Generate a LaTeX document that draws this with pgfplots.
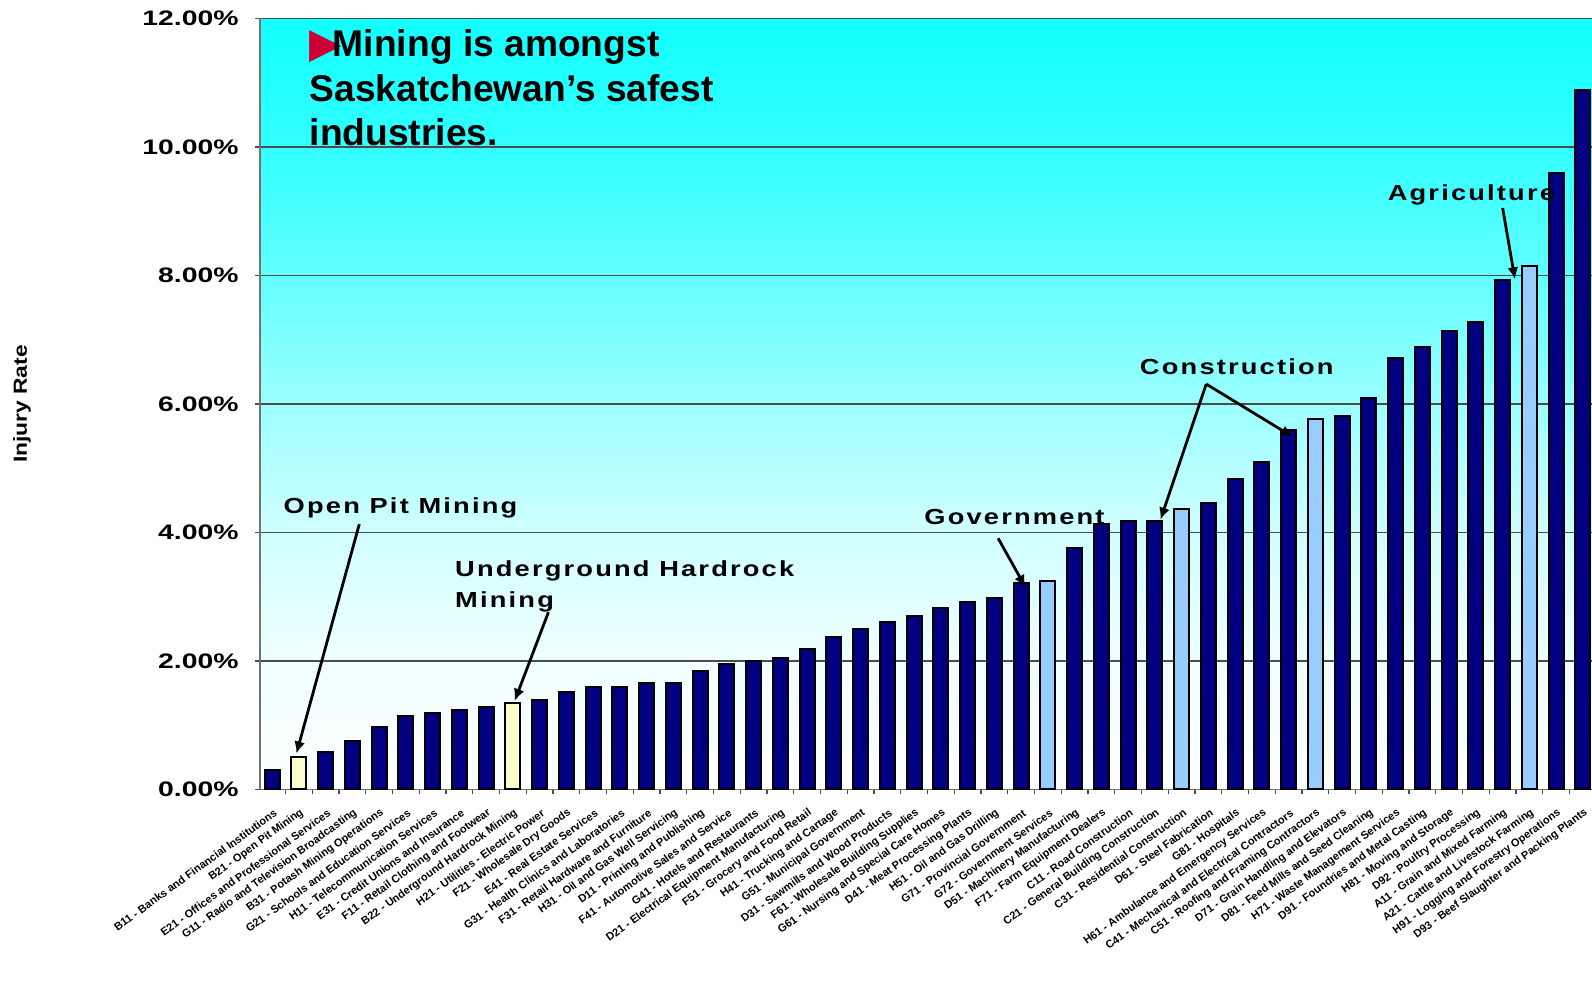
\documentclass[border=0pt]{standalone}
\usepackage{fontspec}
\setmainfont{Liberation Sans}
\newfontfamily\dejavu{DejaVu Sans}
\newfontfamily\annfont[LetterSpace=8]{Liberation Sans}
\usepackage{graphicx}
\usepackage{pgfplots}
\pgfplotsset{compat=1.18}
\usetikzlibrary{arrows.meta}

\definecolor{navybar}{RGB}{0,0,128}
\definecolor{lightbar}{RGB}{153,204,255}
\definecolor{yellowbar}{RGB}{255,255,204}
\definecolor{tri}{RGB}{204,0,51}
\definecolor{c0}{HTML}{FEFFFF}
\definecolor{c2}{HTML}{F0FFFF}
\definecolor{c4}{HTML}{D0FFFF}
\definecolor{c6}{HTML}{9CFFFF}
\definecolor{c8}{HTML}{62FFFF}
\definecolor{c10}{HTML}{32FFFF}
\definecolor{c12}{HTML}{12FFFF}
\pgfdeclareverticalshading{bgshade}{100bp}{color(0bp)=(c0); color(25bp)=(c0); color(33.33bp)=(c2); color(41.67bp)=(c4); color(50bp)=(c6); color(58.33bp)=(c8); color(66.67bp)=(c10); color(75bp)=(c12); color(100bp)=(c12)}

\newcommand\wide[1]{\scalebox{1.35}[1]{#1}}
\newcommand\ann[1]{\scalebox{1.25}[1]{\annfont\bfseries #1}}

\begin{document}
\begin{tikzpicture}
\begin{axis}[
  scale only axis, width=666pt, height=385.5pt,
  xmin=0.548, xmax=50.34, ymin=0, ymax=12,
  axis background/.style={shade, shading=bgshade},
  axis x line*=bottom, axis y line*=left,
  axis line style={-, draw=black!55, line width=0.7pt},
  ymajorgrids, major grid style={black!70, line width=0.6pt},
  tick align=outside, major tick length=2.5pt,
  tick style={black!70, line width=0.6pt},
  ytick={0,2,4,6,8,10,12},
  yticklabels={\wide{0.00\%},\wide{2.00\%},\wide{4.00\%},\wide{6.00\%},\wide{8.00\%},\wide{10.00\%},\wide{12.00\%}},
  yticklabel style={font=\bfseries\fontsize{10.5}{12}\selectfont, inner sep=0pt, anchor=east, xshift=-8pt},
  xtick={1.5,2.5,...,49.5}, xticklabels={},
  extra x ticks={1,2,...,50},
  extra x tick style={major tick length=0pt, grid=none},
  extra x tick labels={
    B11 - Banks and Financial Institutions,
    B21 - Open Pit Mining,
    E21 - Offices and Professional Services,
    G11 - Radio and Television Broadcasting,
    B31 - Potash Mining Operations,
    G21 - Schools and Education Services,
    H11 - Telecommunication Services,
    E31 - Credit Unions and Insurance,
    F11 - Retail Clothing and Footwear,
    B22 - Underground Hardrock Mining,
    H21 - Utilities - Electric Power,
    F21 - Wholesale Dry Goods,
    E41 - Real Estate Services,
    G31 - Health Clinics and Laboratories,
    F31 - Retail Hardware and Furniture,
    H31 - Oil and Gas Well Servicing,
    D11 - Printing and Publishing,
    F41 - Automotive Sales and Service,
    G41 - Hotels and Restaurants,
    D21 - Electrical Equipment Manufacturing,
    F51 - Grocery and Food Retail,
    H41 - Trucking and Cartage,
    G51 - Municipal Government,
    D31 - Sawmills and Wood Products,
    F61 - Wholesale Building Supplies,
    G61 - Nursing and Special Care Homes,
    D41 - Meat Processing Plants,
    H51 - Oil and Gas Drilling,
    G71 - Provincial Government,
    G72 - Government Services,
    D51 - Machinery Manufacturing,
    F71 - Farm Equipment Dealers,
    C11 - Road Construction,
    C21 - General Building Construction,
    C31 - Residential Construction,
    D61 - Steel Fabrication,
    G81 - Hospitals,
    H61 - Ambulance and Emergency Services,
    C41 - Mechanical and Electrical Contractors,
    C51 - Roofing and Framing Contractors,
    D71 - Grain Handling and Elevators,
    D81 - Feed Mills and Seed Cleaning,
    H71 - Waste Management Services,
    D91 - Foundries and Metal Casting,
    H81 - Moving and Storage,
    D92 - Poultry Processing,
    A11 - Grain and Mixed Farming,
    A21 - Cattle and Livestock Farming,
    H91 - Logging and Forestry Operations,
    D93 - Beef Slaughter and Packing Plants},
  xticklabel style={rotate=36, anchor=east, inner sep=0pt, xshift=-5pt, yshift=-10pt, font=\bfseries\fontsize{5.5}{6}\selectfont},
  every axis y label/.style={at={(axis description cs:-0.1787,0.5)}, rotate=90, anchor=center},
  ylabel={\scalebox{1.2}[1]{Injury Rate}},
  ylabel style={font=\bfseries\fontsize{9.5}{11}\selectfont},
]
\addplot[ybar, bar width=0.56, bar shift=0pt, fill=navybar, draw=black, line width=1pt] coordinates {
 (1,0.30) (3,0.58) (4,0.75) (5,0.97) (6,1.15) (7,1.19) (8,1.23) (9,1.29)
 (11,1.39) (12,1.51) (13,1.60) (14,1.60) (15,1.66) (16,1.66) (17,1.85) (18,1.96)
 (19,2.00) (20,2.04) (21,2.19) (22,2.38) (23,2.50) (24,2.60) (25,2.70) (26,2.82)
 (27,2.92) (28,2.98) (29,3.21) (31,3.76) (32,4.13) (33,4.18) (34,4.18)
 (36,4.46) (37,4.84) (38,5.09) (39,5.59) (41,5.81) (42,6.10) (43,6.71) (44,6.89)
 (45,7.14) (46,7.27) (47,7.93) (49,9.60) (50,10.88)};
\addplot[ybar, bar width=0.56, bar shift=0pt, fill=yellowbar, draw=black, line width=1pt] coordinates {
 (2,0.50) (10,1.35)};
\addplot[ybar, bar width=0.56, bar shift=0pt, fill=lightbar, draw=black, line width=1pt] coordinates {
 (30,3.24) (35,4.37) (40,5.76) (48,8.15)};

% title text
\node[anchor=base west, inner sep=0pt, font=\bfseries\fontsize{18.6}{22}\selectfont] at (axis cs:2.39,11.41) {\makebox[11.6pt][l]{\dejavu\fontsize{21}{21}\selectfont\color{tri}\raisebox{-0.5pt}{▶}}Mining is amongst};
\node[anchor=base west, inner sep=0pt, font=\bfseries\fontsize{18.6}{22}\selectfont] at (axis cs:2.39,10.715) {Saskatchewan’s safest};
\node[anchor=base west, inner sep=0pt, font=\bfseries\fontsize{18.6}{22}\selectfont] at (axis cs:2.39,10.02) {industries.};

% annotations
\node[anchor=base, inner sep=0pt, font=\fontsize{10.9}{12}\selectfont] at (axis cs:5.80,4.29) {\ann{Open Pit Mining}};
\node[anchor=base west, inner sep=0pt, font=\fontsize{10.9}{12}\selectfont] at (axis cs:7.83,3.31) {\ann{Underground Hardrock}};
\node[anchor=base west, inner sep=0pt, font=\fontsize{10.9}{12}\selectfont] at (axis cs:7.83,2.84) {\ann{Mining}};
\node[anchor=base, inner sep=0pt, font=\fontsize{10.9}{12}\selectfont] at (axis cs:28.75,4.13) {\ann{Government}};
\node[anchor=base, inner sep=0pt, font=\fontsize{10.9}{12}\selectfont] at (axis cs:37.06,6.46) {\ann{Construction}};
\node[anchor=base, inner sep=0pt, font=\fontsize{10.9}{12}\selectfont] at (axis cs:45.83,9.16) {\ann{Agriculture}};

\draw[line width=1.4pt, -{Latex[length=6pt,width=5.5pt]}] (axis cs:4.26,4.13) -- (axis cs:1.91,0.56);
\draw[line width=1.4pt, -{Latex[length=6pt,width=5.5pt]}] (axis cs:11.33,2.76) -- (axis cs:10.07,1.38);
\draw[line width=1.4pt, -{Latex[length=6pt,width=5.5pt]}] (axis cs:28.14,3.91) -- (axis cs:29.16,3.15);
\draw[line width=1.4pt, -{Latex[length=6pt,width=5.5pt]}] (axis cs:35.92,6.31) -- (axis cs:34.21,4.20);
\draw[line width=1.4pt, -{Latex[length=6pt,width=5.5pt]}] (axis cs:35.92,6.31) -- (axis cs:39.15,5.49);
\draw[line width=1.4pt, -{Latex[length=6pt,width=5.5pt]}] (axis cs:47.0,9.05) -- (axis cs:47.46,7.94);
\end{axis}
\pgfresetboundingbox
\path[use as bounding box] ([xshift=-130pt,yshift=-104.75pt]current axis.south west) rectangle ([yshift=9.25pt]current axis.north east);
\end{tikzpicture}
\end{document}
